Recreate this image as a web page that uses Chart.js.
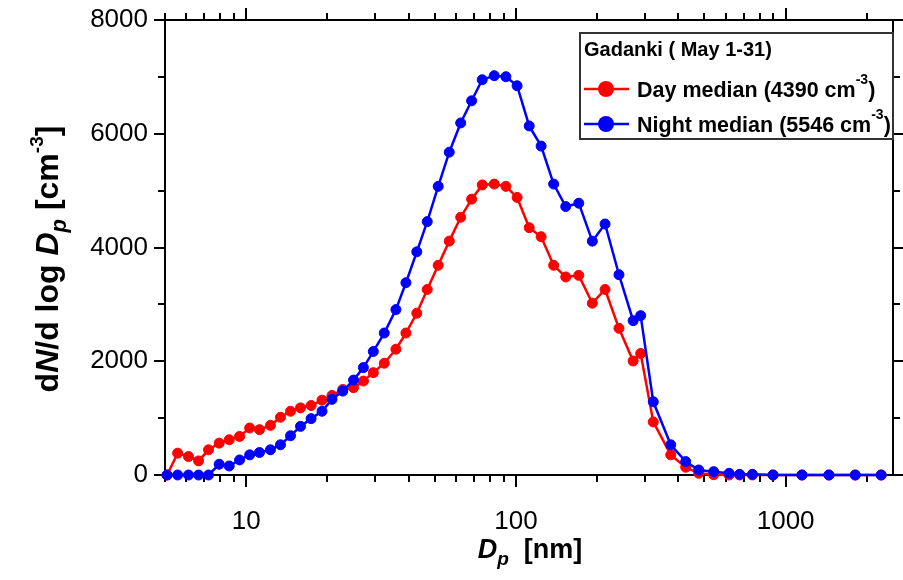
<!DOCTYPE html>
<html>
<head>
<meta charset="utf-8">
<script src="https://cdn.jsdelivr.net/npm/chart.js@4.4.0/dist/chart.umd.min.js"></script>
<style>
  html, body { margin: 0; padding: 0; background: #fff; }
  #wrap { width: 903px; height: 580px; position: relative; }
</style>
</head>
<body>
<div id="wrap"><canvas id="myChart" width="903" height="580"></canvas></div>
<script>
// particle diameter bins (nm)
const diameters = [5.09, 5.57, 6.11, 6.66, 7.25, 7.94, 8.65, 9.45, 10.3, 11.2,
  12.3, 13.4, 14.6, 15.9, 17.4, 19.1, 20.8, 22.8, 25.0, 27.2,
  29.6, 32.5, 35.9, 39.1, 42.9, 46.9, 51.5, 56.6, 62.4, 68.5,
  75.0, 83.1, 91.8, 101, 112, 124, 138, 153, 171, 192,
  214, 241, 272, 290, 323, 375, 426, 476, 541, 617,
  675, 753, 898, 1149, 1447, 1812, 2261];

// dN/dlogDp (cm-3)
const dayMedian = [0, 384, 324, 248, 443, 560, 620, 678, 826, 797,
  873, 1015, 1121, 1180, 1221, 1316, 1398, 1504, 1534, 1652,
  1800, 1965, 2212, 2496, 2844, 3262, 3687, 4112, 4531, 4850,
  5100, 5115, 5075, 4880, 4349, 4190, 3687, 3482, 3510, 3021,
  3262, 2579, 2005, 2136, 933, 354, 136, 30, 5, 0,
  0, 0, 0, 0, 0, 0, 0];
const nightMedian = [0, 0, 0, 0, 0, 189, 159, 265, 354, 395,
  443, 531, 690, 855, 991, 1121, 1330, 1475, 1669, 1888,
  2172, 2496, 2908, 3381, 3924, 4455, 5075, 5676, 6190, 6579,
  6950, 7021, 7003, 6844, 6137, 5783, 5115, 4720, 4779, 4112,
  4413, 3522, 2713, 2802, 1287, 531, 236, 89, 59, 30,
  12, 12, 0, 0, 0, 0, 0];

const seriesNames = ["Day median (4390 cm", "Night median (5546 cm"];
const seriesColors = ["#ff0000", "#0000ff"];
const legendTitle = "Gadanki ( May 1-31)";
const xLabelTicks = [10, 100, 1000];
const yLabelTicks = [0, 2000, 4000, 6000, 8000];

const FONT = "'Liberation Sans', Arial, sans-serif";

// draw a run of text pieces (italic / sub / superscript) starting at x
function drawRich(ctx, parts, x, y) {
  let cx = x;
  parts.forEach(p => {
    ctx.font = (p.italic ? "italic " : "") + "bold " + p.size + "px " + FONT;
    ctx.fillText(p.text, cx, y + (p.dy || 0));
    cx += ctx.measureText(p.text).width;
  });
  return cx - x;
}
function richWidth(ctx, parts) {
  let w = 0;
  parts.forEach(p => {
    ctx.font = (p.italic ? "italic " : "") + "bold " + p.size + "px " + FONT;
    w += ctx.measureText(p.text).width;
  });
  return w;
}

const framePlugin = {
  id: "frame",
  beforeDatasetsDraw(chart) {
    const ctx = chart.ctx;
    const a = chart.chartArea;
    const xs = chart.scales.x;
    const ys = chart.scales.y;
    ctx.save();
    ctx.strokeStyle = "#000";
    ctx.lineWidth = 2;
    ctx.strokeRect(a.left, a.top, a.right - a.left, a.bottom - a.top);

    // log ticks on bottom and top
    for (let d = 1; d <= 1000; d *= 10) {
      for (let m = 1; m <= 9; m++) {
        const v = m * d;
        if (v < xs.min || v > xs.max) continue;
        const px = Math.round(xs.getPixelForValue(v));
        const len = m === 1 ? 12 : 7;
        ctx.beginPath();
        ctx.moveTo(px, a.bottom);
        ctx.lineTo(px, a.bottom + len);
        ctx.moveTo(px, a.top);
        ctx.lineTo(px, a.top - len);
        ctx.stroke();
      }
    }
    // y ticks on left and right
    for (let v = 0; v <= 8000; v += 1000) {
      const py = Math.round(ys.getPixelForValue(v));
      const len = v % 2000 === 0 ? 11 : 7;
      ctx.beginPath();
      ctx.moveTo(a.left, py);
      ctx.lineTo(a.left - len, py);
      ctx.moveTo(a.right, py);
      ctx.lineTo(a.right + len, py);
      ctx.stroke();
    }
    ctx.restore();
  },
  afterDraw(chart) {
    const ctx = chart.ctx;
    ctx.save();
    ctx.fillStyle = "#000";
    ctx.textBaseline = "alphabetic";
    ctx.textAlign = "left";

    // x axis title
    const xParts = [
      { text: "D", italic: true, size: 27 },
      { text: "p", italic: true, size: 19, dy: 7 },
      { text: "  [nm]", size: 27 }
    ];
    const xw = richWidth(ctx, xParts);
    drawRich(ctx, xParts, 530 - xw / 2, 558);

    // y axis title
    const yParts = [
      { text: "d", size: 32 },
      { text: "N", italic: true, size: 32 },
      { text: "/d log ", size: 32 },
      { text: "D", italic: true, size: 32 },
      { text: "p", italic: true, size: 22, dy: 8 },
      { text: " [cm", size: 32 },
      { text: "-3", size: 19, dy: -15 },
      { text: "]", size: 32 }
    ];
    const yw = richWidth(ctx, yParts);
    ctx.translate(58, 259);
    ctx.rotate(-Math.PI / 2);
    drawRich(ctx, yParts, -yw / 2, 0);
    ctx.restore();

    // legend box
    ctx.save();
    ctx.fillStyle = "#fff";
    ctx.fillRect(580, 33, 313, 106);
    ctx.strokeStyle = "#333";
    ctx.lineWidth = 2;
    ctx.strokeRect(580, 33, 313, 106);
    ctx.fillStyle = "#000";
    ctx.font = "bold 20px " + FONT;
    ctx.fillText(legendTitle, 584, 56);
    const rows = [89, 124];
    seriesNames.forEach((name, i) => {
      const y = rows[i];
      ctx.strokeStyle = seriesColors[i];
      ctx.lineWidth = 2.5;
      ctx.beginPath();
      ctx.moveTo(584, y);
      ctx.lineTo(629, y);
      ctx.stroke();
      ctx.fillStyle = seriesColors[i];
      ctx.beginPath();
      ctx.arc(606, y, 8, 0, Math.PI * 2);
      ctx.fill();
      ctx.fillStyle = "#000";
      drawRich(ctx, [
        { text: name, size: 21.5 },
        { text: "-3", size: 14, dy: -13 },
        { text: ")", size: 21.5 }
      ], 637, y + 8);
    });
    ctx.restore();
  }
};

const makeSet = (label, values, color, order) => ({
  label: label,
  data: diameters.map((d, i) => ({ x: d, y: values[i] })),
  borderColor: color,
  backgroundColor: color,
  pointBackgroundColor: color,
  pointBorderColor: color,
  borderWidth: 2.5,
  pointRadius: 5,
  pointBorderWidth: 1,
  tension: 0,
  clip: false,
  order: order
});

new Chart(document.getElementById("myChart").getContext("2d"), {
  type: "line",
  data: {
    datasets: [
      makeSet(seriesNames[0], dayMedian, seriesColors[0], 2),
      makeSet(seriesNames[1], nightMedian, seriesColors[1], 1)
    ]
  },
  plugins: [framePlugin],
  options: {
    responsive: false,
    devicePixelRatio: 1,
    animation: false,
    layout: { padding: { top: 20, right: 10, left: 0, bottom: 0 } },
    plugins: { legend: { display: false }, tooltip: { enabled: false } },
    scales: {
      x: {
        type: "logarithmic",
        min: 5,
        max: 2500,
        grid: { display: false, drawTicks: false },
        border: { display: false },
        afterBuildTicks: (scale) => { scale.ticks = xLabelTicks.map(v => ({ value: v })); },
        afterFit: (scale) => {
          scale.height = 105;
          scale.paddingLeft = 0;
          scale.paddingRight = 0;
        },
        ticks: {
          color: "#000",
          font: { family: FONT, size: 26 },
          padding: 31,
          maxRotation: 0,
          autoSkip: false,
          callback: (v) => String(v)
        }
      },
      y: {
        min: 0,
        max: 8000,
        grid: { display: false, drawTicks: false },
        border: { display: false },
        afterBuildTicks: (scale) => { scale.ticks = yLabelTicks.map(v => ({ value: v })); },
        afterFit: (scale) => {
          scale.width = 165;
          scale.paddingTop = 0;
          scale.paddingBottom = 0;
        },
        ticks: {
          color: "#000",
          font: { family: FONT, size: 26 },
          padding: 17,
          callback: (v) => String(v)
        }
      }
    }
  }
});
</script>
</body>
</html>
